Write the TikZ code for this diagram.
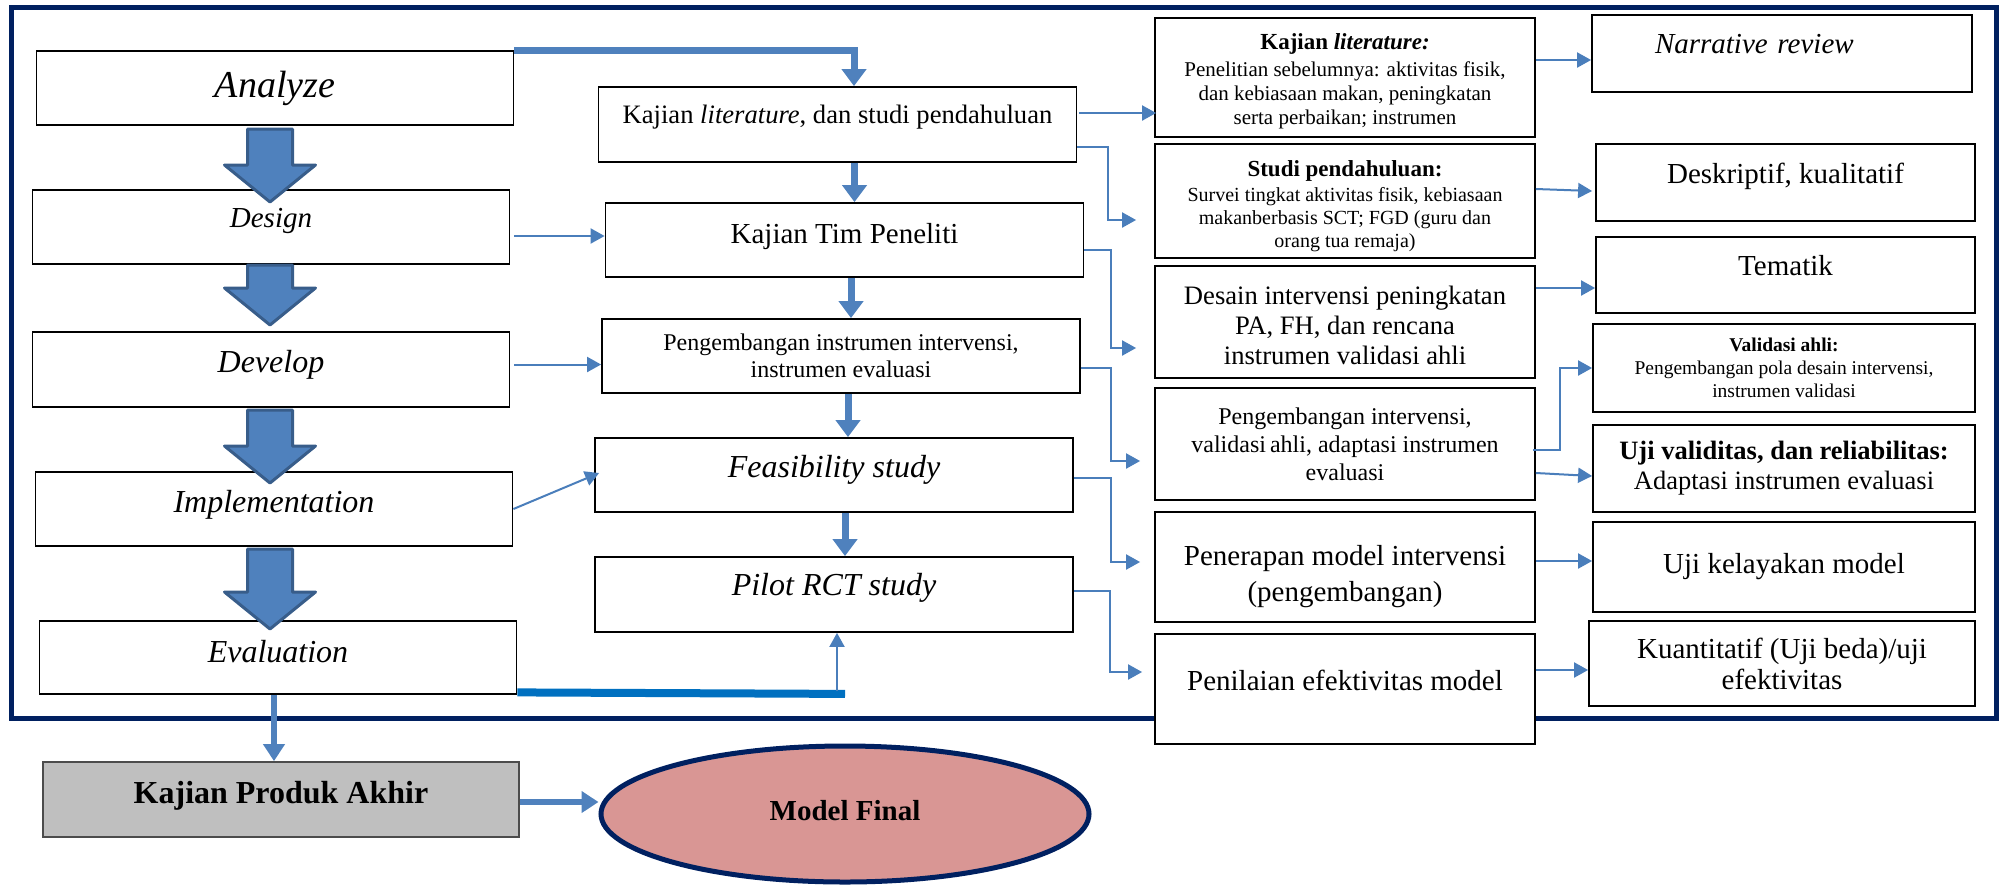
\documentclass[tikz,border=0pt]{standalone}
\usepackage{fontspec}
\setmainfont{Liberation Serif}
\usetikzlibrary{arrows.meta,shapes.geometric,calc}
\definecolor{rdLink}{HTML}{4A7EBB}
\definecolor{rdArrow}{HTML}{4F81BD}
\definecolor{rdArrowEdge}{HTML}{385D8A}
\definecolor{rdBar}{HTML}{0070C0}
\definecolor{rdNavy}{HTML}{002060}
\definecolor{rdRose}{HTML}{D99694}
\definecolor{rdGray}{HTML}{BFBFBF}
\tikzset{
  box/.style={draw=black,line width=1.8pt,fill=white,align=center,inner sep=0pt,text=black},
  phase/.style={box,minimum width=477pt,minimum height=74pt,font=\itshape\fontsize{32}{36}\selectfont},
  stage/.style={box,minimum width=478pt,minimum height=74pt,font=\fontsize{29}{33}\selectfont},
  detail/.style={box,minimum width=380pt,font=\fontsize{29}{33}\selectfont},
  result/.style={box,minimum width=382pt,font=\fontsize{29}{33}\selectfont},
  link/.style={-{Triangle[length=14pt,width=15pt]},draw=rdLink,line width=2pt},
  mainflow/.style={-{Triangle[length=17pt,width=24pt]},draw=rdArrow,line width=7pt},
  outflow/.style={-{Triangle[length=17pt,width=21pt]},draw=rdArrow,line width=6pt},
  evalbar/.style={draw=rdBar,line width=8pt},
  blockarrow/.style={fill=rdArrow,draw=rdArrowEdge,line width=3pt,line join=round},
  outerframe/.style={draw=rdNavy,line width=5pt},
}
\begin{document}
\begin{tikzpicture}[x=1pt,y=-1pt]
  \useasboundingbox (0,0) rectangle (2004,887);
  \draw[outerframe] (11,7) rectangle (1996,718);
  % ADDIE phases
  \node[phase,font=\itshape\fontsize{38}{44}\selectfont] (analyze) at (275,88) {Analyze};
  \node[phase,font=\itshape\fontsize{29}{33}\selectfont,text height=20pt,text depth=20pt] (design) at (271,227) {Design};
  \node[phase,minimum height=75pt,text height=22pt,text depth=17pt] (develop) at (271,369.5) {Develop};
  \node[phase,text height=22pt,text depth=16pt] (implement) at (274,509) {Implementation};
  \node[phase,minimum height=73pt,text height=22pt,text depth=13pt] (evaluate) at (278,657.5) {Evaluation};
  % research steps
  \node[stage,minimum height=75pt,font=\fontsize{26.6}{30}\selectfont,text height=18pt,text depth=21pt] (kajlit) at (837.5,124.5)
    {Kajian \textit{literature}, dan studi pendahuluan};
  \node[stage,text height=20pt,text depth=14pt] (kajtim) at (844.5,240) {Kajian Tim Peneliti};
  \node[stage,font=\fontsize{24}{26.5}\selectfont] (instrumen) at (841,356)
    {Pengembangan instrumen intervensi,\\instrumen evaluasi};
  \node[stage,font=\itshape\fontsize{32}{36}\selectfont,text height=22pt,text depth=18pt] (feasible) at (834,475) {Feasibility study};
  \node[stage,minimum height=75pt,font=\itshape\fontsize{32}{36}\selectfont,text height=22pt,text depth=21pt] (pilot) at (834,594.5) {Pilot RCT study};
  % activities
  \node[detail,minimum height=119pt,font=\fontsize{21}{24}\selectfont] (kajlit2) at (1345,77.5)
    {{\bfseries\fontsize{23}{27}\selectfont\rule{0pt}{23pt}Kajian \textit{literature:}}\\[3pt]
     Penelitian sebelumnya: aktivitas fisik,\\dan kebiasaan makan, peningkatan\\serta perbaikan; instrumen};
  \node[detail,minimum height=114pt,font=\fontsize{20}{23}\selectfont] (studi) at (1345,201)
    {{\bfseries\fontsize{23}{27}\selectfont\rule{0pt}{26pt}Studi pendahuluan:}\\[2pt]
     Survei tingkat aktivitas fisik, kebiasaan\\makanberbasis SCT; FGD (guru dan\\orang tua remaja)};
  \node[detail,minimum height=112pt,font=\fontsize{26.6}{30}\selectfont] (desain) at (1345,322)
    {\rule{0pt}{26pt}Desain intervensi peningkatan\\PA, FH, dan rencana\\instrumen validasi ahli};
  \node[detail,minimum height=112pt,font=\fontsize{24}{28}\selectfont] (pengint) at (1345,444)
    {Pengembangan intervensi,\\validasi\,ahli, adaptasi instrumen\\evaluasi};
  \node[detail,minimum height=110pt,font=\fontsize{29}{36}\selectfont] (pener) at (1345,567)
    {\rule{0pt}{40pt}Penerapan model intervensi\\(pengembangan)};
  \node[detail,minimum height=110pt,text height=20pt,text depth=18pt] (penil) at (1345,689)
    {Penilaian efektivitas model};
  % methods
  \node[result,minimum width=380pt,minimum height=77pt,font=\itshape\fontsize{29}{33}\selectfont,
    text width=254pt,align=left,text height=20pt,text depth=21pt] (narr) at (1782,53.5) {Narrative review};
  \node[result,minimum width=379pt,minimum height=77pt,text height=20pt,text depth=19pt] (desk) at (1785.5,182.5)
    {Deskriptif, kualitatif};
  \node[result,minimum width=379pt,minimum height=76pt,text height=20pt,text depth=20pt] (tema) at (1785.5,275) {Tematik};
  \node[result,minimum height=88pt,font=\fontsize{19.5}{23}\selectfont] (valid) at (1784,368)
    {\textbf{Validasi ahli:}\\Pengembangan pola desain intervensi,\\instrumen validasi};
  \node[result,minimum height=87pt,font=\fontsize{26.5}{30}\selectfont] (ujival) at (1784,468.5)
    {\textbf{Uji validitas, dan reliabilitas:}\\Adaptasi instrumen evaluasi};
  \node[result,minimum height=90pt,text height=20pt,text depth=8pt] (layak) at (1784,567) {Uji kelayakan model};
  \node[result,minimum width=386pt,minimum height=85pt,font=\fontsize{29}{31}\selectfont] (kuant) at (1782,663.5)
    {Kuantitatif (Uji beda)/uji\\efektivitas};
  % final product
  \node[phase,minimum width=476pt,minimum height=75pt,fill=rdGray,draw=black!70,
    font=\bfseries\fontsize{32}{36}\selectfont,text height=22pt,text depth=15pt] (kpa) at (281,799.5) {Kajian Produk Akhir};
  \node[ellipse,draw=rdNavy,line width=5pt,fill=rdRose,minimum width=488pt,minimum height=136pt,inner sep=0pt,
    font=\bfseries\fontsize{29}{33}\selectfont,text height=20pt,text depth=8pt] (model) at (845,814) {Model Final};
  % phase arrows
  \foreach \top/\tip in {129/202,265/325,410/483,549/629}
    \draw[blockarrow] (247.5,\top) -- (292.5,\top) -- (292.5,\tip-37) -- (315.5,\tip-37) -- (270,\tip)
      -- (224.5,\tip-37) -- (247.5,\tip-37) -- cycle;
  % main flow
  \draw[mainflow] (analyze.north east) -| ($(kajlit.north)+(16.5,0)$);
  \draw[mainflow] ($(kajlit.south)+(17,0)$) -- ($(kajlit.south |- kajtim.north)+(17,0)$);
  \draw[mainflow] ($(kajtim.south)+(6.5,0)$) -- ($(kajtim.south |- instrumen.north)+(6.5,0)$);
  \draw[mainflow] ($(instrumen.south)+(7,0)$) -- ($(instrumen.south |- feasible.north)+(7,0)$);
  \draw[mainflow] ($(feasible.south)+(11,0)$) -- ($(feasible.south |- pilot.north)+(11,0)$);
  \draw[link] ($(design.east)+(4,9)$) -- ($(design.east -| kajtim.west)+(0,9)$);
  \draw[link] ($(develop.east)+(4,-5)$) -- ($(develop.east -| instrumen.west)+(0,-5)$);
  \draw[link] (implement.east) -- ($(feasible.west)+(5,-2)$);
  \draw[evalbar] ($(evaluate.south east)+(0,-2.5)$) -- ($(evaluate.south east -| pilot.south)+(11,-1)$);
  \draw[link] ($(pilot.south |- evaluate.south)+(3,-4)$) -- ($(pilot.south)+(3,0)$);
  % steps to activities
  \draw[link] ($(kajlit.east)+(2,-11.5)$) -- ($(kajlit.east -| kajlit2.west)+(2,-11.5)$);
  \draw[link] ($(kajlit.east)+(0,22.5)$) -- ++(31,0) |- ($(studi.west)+(-18,19)$);
  \draw[link] ($(kajtim.east)+(0,10)$) -- ++(27,0) |- ($(desain.west)+(-18,26)$);
  \draw[link] ($(instrumen.east)+(0,12)$) -- ++(30,0) |- ($(pengint.west)+(-14,17)$);
  \draw[link] ($(feasible.east)+(0,3)$) -- ++(37,0) |- ($(pener.west)+(-14,-5)$);
  \draw[link] ($(pilot.east)+(0,-3.5)$) -- ++(36,0) |- ($(penil.west)+(-12,-17)$);
  % activities to methods
  \draw[link] ($(kajlit2.east)+(0,-17.5)$) -- ($(kajlit2.east -| narr.west)+(0,-17.5)$);
  \draw[link] ($(studi.east)+(0,-12)$) -- ($(desk.west)+(-3,8.5)$);
  \draw[link] ($(desain.east)+(0,-34)$) -- ($(desain.east -| tema.west)+(0,-34)$);
  \draw[link] ($(pengint.east)+(-3,6)$) -- ++(27,0) |- (valid.west);
  \draw[link] ($(pengint.east)+(0,29)$) -- ($(ujival.west)+(0,7.5)$);
  \draw[link] ($(pener.east)+(0,-6)$) -- ($(pener.east -| layak.west)+(0,-6)$);
  \draw[link] ($(penil.east)+(0,-19)$) -- ($(penil.east -| kuant.west)+(0,-19)$);
  % final product
  \draw[outflow] ($(evaluate.south)+(-4,0)$) -- ($(evaluate.south |- kpa.north)+(-4,0)$);
  \draw[outflow] ($(kpa.east)+(0,2.5)$) -- ($(kpa.east -| model.west)+(0,2.5)$);
\end{tikzpicture}
\end{document}
